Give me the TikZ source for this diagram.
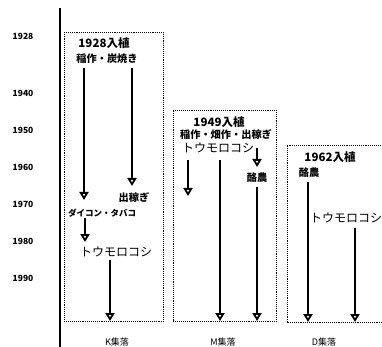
\documentclass[tikz,border=0pt]{standalone}
\usepackage{fontspec}
\setmainfont{Noto Sans CJK JP}
\usetikzlibrary{arrows.meta}
\begin{document}
\begin{tikzpicture}[x=1pt,y=-1pt,
  yearlbl/.style={font=\fontsize{8.5}{9}\selectfont\bfseries,inner sep=0pt},
  ttl/.style={font=\fontsize{11.5}{12}\selectfont\bfseries,inner sep=0pt},
  crop/.style={font=\fontsize{10.2}{11}\selectfont\bfseries,inner sep=0pt},
  small/.style={font=\fontsize{8.5}{9}\selectfont\bfseries,inner sep=0pt},
  big/.style={font=\fontsize{12}{13}\selectfont,inner sep=0pt},
  village/.style={font=\fontsize{9}{10}\selectfont,inner sep=0pt},
  areabox/.style={draw,densely dotted,line width=0.9pt,inner sep=0pt,anchor=north west},
  arr/.style={line width=2.2pt,-{Triangle[open,length=8pt,width=9pt,line width=1.8pt]},shorten >=0pt},
  axisline/.style={line width=2.4pt}]
\useasboundingbox (0,0) rectangle (382,347);
% axis
\coordinate (axtop) at (60,8);
\coordinate (axbot) at (60,347);
\draw[axisline] (axtop) -- (axbot);
% years
\node[yearlbl] (y1928) at (23,36) {1928};
\node[yearlbl] (y1940) at (23,93) {1940};
\node[yearlbl] (y1950) at (23,130) {1950};
\node[yearlbl] (y1960) at (23,167) {1960};
\node[yearlbl] (y1970) at (23,204) {1970};
\node[yearlbl] (y1980) at (23,241) {1980};
\node[yearlbl] (y1990) at (23,278) {1990};
% boxes
\node[areabox,minimum width=99pt,minimum height=289pt] (boxK) at (64,32) {};
\node[areabox,minimum width=103pt,minimum height=211pt] (boxM) at (173,110) {};
\draw[densely dotted,line width=0.9pt] (392,145) -- (287,145) -- (287,322) -- (392,322);
% K
\node[ttl] (kt1) at (104,43) {1928入植};
\node[crop] (kt2) at (107,59) {稲作・炭焼き};
\node[crop] (kdek) at (134,198) {出稼ぎ};
\node[small] (kdai) at (102,213) {ダイコン・タバコ};
\node[big] (ktou) at (116,252) {トウモロコシ};
\coordinate (ka1) at (84,68); \coordinate (ka2) at (84,200);
\coordinate (kb1) at (132,68); \coordinate (kb2) at (132,186);
\coordinate (kc1) at (85,218); \coordinate (kc2) at (85,242);
\coordinate (kd1) at (110,260); \coordinate (kd2) at (110,321);
\draw[arr] (ka1) -- (ka2);
\draw[arr] (kb1) -- (kb2);
\draw[arr] (kc1) -- (kc2);
\draw[arr] (kd1) -- (kd2);
\node[village] (vK) at (117,342) {K集落};
% M
\node[ttl] (mt1) at (219,122) {1949入植};
\node[crop] (mt2) at (226,135) {稲作・畑作・出稼ぎ};
\node[big] (mtou) at (218,148) {トウモロコシ};
\node[crop] (mrak) at (257,178) {酪農};
\coordinate (ma1) at (188,160); \coordinate (ma2) at (188,196);
\coordinate (mb1) at (220,160); \coordinate (mb2) at (220,321);
\coordinate (mc1) at (257,148); \coordinate (mc2) at (257,167);
\coordinate (md1) at (257,187); \coordinate (md2) at (257,321);
\draw[arr] (ma1) -- (ma2);
\draw[arr] (mb1) -- (mb2);
\draw[arr] (mc1) -- (mc2);
\draw[arr] (md1) -- (md2);
\node[village] (vM) at (223,342) {M集落};
% D
\node[ttl] (dt1) at (330,157) {1962入植};
\node[crop] (drak) at (309,173) {酪農};
\node[big] (dtou) at (346,218) {トウモロコシ};
\coordinate (da1) at (308,182); \coordinate (da2) at (308,322);
\coordinate (db1) at (355,228); \coordinate (db2) at (355,322);
\draw[arr] (da1) -- (da2);
\draw[arr] (db1) -- (db2);
\node[village] (vD) at (324,342) {D集落};
\end{tikzpicture}
\end{document}
